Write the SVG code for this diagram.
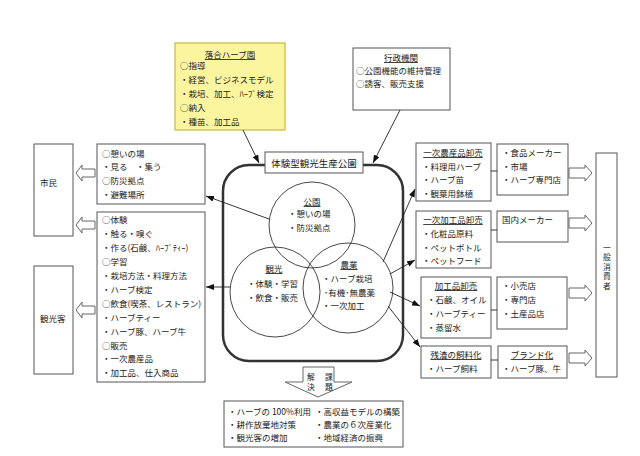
<svg xmlns="http://www.w3.org/2000/svg" width="640" height="456" viewBox="0 0 640 456">
<defs>
<style>
text{font-family:"Noto Sans CJK JP","Noto Sans CJK SC",sans-serif;font-size:8.5px;fill:#222;dominant-baseline:central}
.m{text-anchor:middle}
.u{text-decoration:underline}
.v{font-size:7.8px}
.box{fill:#fff;stroke:#555;stroke-width:1}
.blk{fill:#fff;stroke:#666;stroke-width:1}
.ln{stroke:#222;stroke-width:0.9;fill:none}
.cir{fill:none;stroke:#333;stroke-width:0.9}
</style>
<marker id="ah" markerUnits="userSpaceOnUse" markerWidth="8" markerHeight="6" refX="8" refY="3" orient="auto">
<path d="M0,0 L8,3 L0,6 z" fill="#111"/>
</marker>
</defs>
<rect width="640" height="456" fill="#fff"/>

<g id="park">
<rect x="223" y="165" width="180" height="196" rx="26" fill="none" stroke="#333" stroke-width="2.5"/>
<circle class="cir" cx="312" cy="225" r="43"/>
<circle class="cir" cx="275" cy="292" r="45"/>
<circle class="cir" cx="348" cy="288" r="45"/>
<rect class="box" x="265" y="152" width="98" height="21"/>
<text class="m" x="314" y="163" style="font-size:9.5px">体験型観光生産公園</text>
<text class="m u" x="312" y="201">公園</text>
<text x="288" y="213">・憩いの場</text>
<text x="288" y="227">・防災拠点</text>
<text class="m u" x="274" y="268">観光</text>
<text x="247" y="283">・体験・学習</text>
<text x="247" y="297">・飲食・販売</text>
<text class="m u" x="349" y="264">農業</text>
<text x="322" y="278">・ハーブ栽培</text>
<text x="324" y="292">･有機･無農薬</text>
<text x="322" y="305">・一次加工</text>
</g>

<g id="ochiai">
<rect x="175" y="43" width="110" height="87" fill="#fcf5a0" stroke="#c9b640" stroke-width="1.2"/>
<text class="m u" x="230" y="54">落合ハーブ園</text>
<text x="180" y="65">○指導</text>
<text x="180" y="79">・経営、ビジネスモデル</text>
<text x="180" y="93">・栽培、加工、ﾊｰﾌﾞ検定</text>
<text x="180" y="107">○納入</text>
<text x="180" y="121">・種苗、加工品</text>
</g>

<g id="gyosei">
<rect class="box" x="353" y="48" width="97" height="62"/>
<text class="m u" x="401" y="57">行政機関</text>
<text x="356" y="70">○公園機能の維持管理</text>
<text x="356" y="83">○誘客、販売支援</text>
</g>

<g id="shimin">
<rect class="box" x="34" y="144" width="39" height="92"/>
<text x="40" y="182">市民</text>
</g>
<g id="kankokyaku">
<rect class="box" x="34" y="266" width="39" height="108"/>
<text x="40" y="318">観光客</text>
</g>

<g id="left1">
<rect class="box" x="97" y="144" width="108" height="60"/>
<text x="102" y="153">○憩いの場</text>
<text x="102" y="166">・見る　・集う</text>
<text x="102" y="180">○防災拠点</text>
<text x="102" y="194">・避難場所</text>
</g>

<g id="left2">
<rect class="box" x="97" y="212" width="108" height="170"/>
<text x="102" y="219">○体験</text>
<text x="102" y="233">・触る・嗅ぐ</text>
<text x="102" y="247">・作る(石鹸、ﾊｰﾌﾞﾃｨｰ)</text>
<text x="102" y="261">○学習</text>
<text x="102" y="275">・栽培方法・料理方法</text>
<text x="102" y="289">・ハーブ検定</text>
<text x="102" y="303">○飲食(喫茶、レストラン)</text>
<text x="102" y="317">・ハーブティー</text>
<text x="102" y="331">・ハーブ豚、ハーブ牛</text>
<text x="102" y="345">○販売</text>
<text x="102" y="358">・一次農産品</text>
<text x="102" y="372">・加工品、仕入商品</text>
</g>

<g id="r1">
<rect class="box" x="416" y="143" width="75" height="58"/>
<text class="m u" x="453" y="152">一次農産品卸売</text>
<text x="422" y="166">・料理用ハーブ</text>
<text x="422" y="179">・ハーブ苗</text>
<text x="422" y="193">・観葉用鉢植</text>
</g>
<g id="r1b">
<rect class="box" x="497" y="144" width="71" height="51"/>
<text x="502" y="152">・食品メーカー</text>
<text x="502" y="166">・市場</text>
<text x="502" y="179">・ハーブ専門店</text>
</g>
<g id="r2">
<rect class="box" x="416" y="211" width="75" height="57"/>
<text class="m u" x="453" y="219">一次加工品卸売</text>
<text x="422" y="233">・化粧品原料</text>
<text x="422" y="247">・ペットボトル</text>
<text x="422" y="260">・ペットフード</text>
</g>
<g id="r2b">
<rect class="box" x="497" y="211" width="71" height="31"/>
<text x="502" y="219">国内メーカー</text>
</g>
<g id="r3">
<rect class="box" x="421" y="277" width="70" height="61"/>
<text class="m u" x="456" y="285">加工品卸売</text>
<text x="427" y="299">・石鹸、オイル</text>
<text x="427" y="313">・ハーブティー</text>
<text x="427" y="327">・蒸留水</text>
</g>
<g id="r3b">
<rect class="box" x="497" y="277" width="70" height="52"/>
<text x="502" y="285">・小売店</text>
<text x="502" y="299">・専門店</text>
<text x="502" y="313">・土産品店</text>
</g>
<g id="r4">
<rect class="box" x="421" y="346" width="70" height="32"/>
<text class="m u" x="456" y="354">残渣の飼料化</text>
<text x="427" y="368">・ハーブ飼料</text>
</g>
<g id="r4b">
<rect class="box" x="498" y="346" width="69" height="32"/>
<text class="m u" x="532" y="354">ブランド化</text>
<text x="502" y="368">・ハーブ豚、牛</text>
</g>

<g id="consumer">
<rect class="box" x="596" y="153" width="21" height="224"/>
<text class="m v" x="607" y="247">一</text>
<text class="m v" x="607" y="256.5">般</text>
<text class="m v" x="607" y="266">消</text>
<text class="m v" x="607" y="275.5">費</text>
<text class="m v" x="607" y="285">者</text>
</g>

<g id="result">
<rect class="box" x="224" y="401" width="179" height="46"/>
<text x="228" y="411">・ハーブの 100%利用</text>
<text x="228" y="424">・耕作放棄地対策</text>
<text x="228" y="437">・観光客の増加</text>
<text x="315" y="411">・高収益モデルの構築</text>
<text x="315" y="424">・農業の６次産業化</text>
<text x="315" y="437">・地域経済の振興</text>
</g>

<g id="connectors">
<line class="ln" x1="243" y1="130" x2="259" y2="163" marker-end="url(#ah)"/>
<line class="ln" x1="400" y1="110" x2="373" y2="163" marker-end="url(#ah)"/>
<line class="ln" x1="269" y1="219" x2="206" y2="196" marker-end="url(#ah)"/>
<line class="ln" x1="230" y1="287" x2="206" y2="287" marker-end="url(#ah)"/>
<line class="ln" x1="383" y1="262" x2="415" y2="189" marker-end="url(#ah)"/>
<line class="ln" x1="390" y1="274" x2="415" y2="260" marker-end="url(#ah)"/>
<line class="ln" x1="390" y1="292" x2="420" y2="306" marker-end="url(#ah)"/>
<line class="ln" x1="388" y1="306" x2="420" y2="347" marker-end="url(#ah)"/>
<line class="ln" x1="491" y1="171" x2="497" y2="171"/>
<line class="ln" x1="491" y1="230" x2="497" y2="230"/>
<line class="ln" x1="491" y1="310" x2="497" y2="310"/>
<line class="ln" x1="491" y1="360" x2="498" y2="360"/>
<polygon class="blk" points="76,173 82,165 82,169 95,169 95,177 82,177 82,181"/>
<polygon class="blk" points="76,225 82,217 82,221 95,221 95,229 82,229 82,233"/>
<polygon class="blk" points="76,310 82,302 82,306 95,306 95,314 82,314 82,318"/>
<polygon class="blk" points="592,173 585,165 585,168 569,168 569,178 585,178 585,181"/>
<polygon class="blk" points="592,223 585,215 585,218 569,218 569,228 585,228 585,231"/>
<polygon class="blk" points="592,293 585,285 585,288 569,288 569,298 585,298 585,301"/>
<polygon class="blk" points="592,358 585,350 585,353 569,353 569,363 585,363 585,366"/>
<polygon class="blk" points="303,367 334,367 334,382 352,382 318,397 285,382 303,382"/>
<text class="m v" x="329" y="376">課</text>
<text class="m v" x="329" y="386">題</text>
<text class="m v" x="311" y="376">解</text>
<text class="m v" x="311" y="386">決</text>
</g>
</svg>
